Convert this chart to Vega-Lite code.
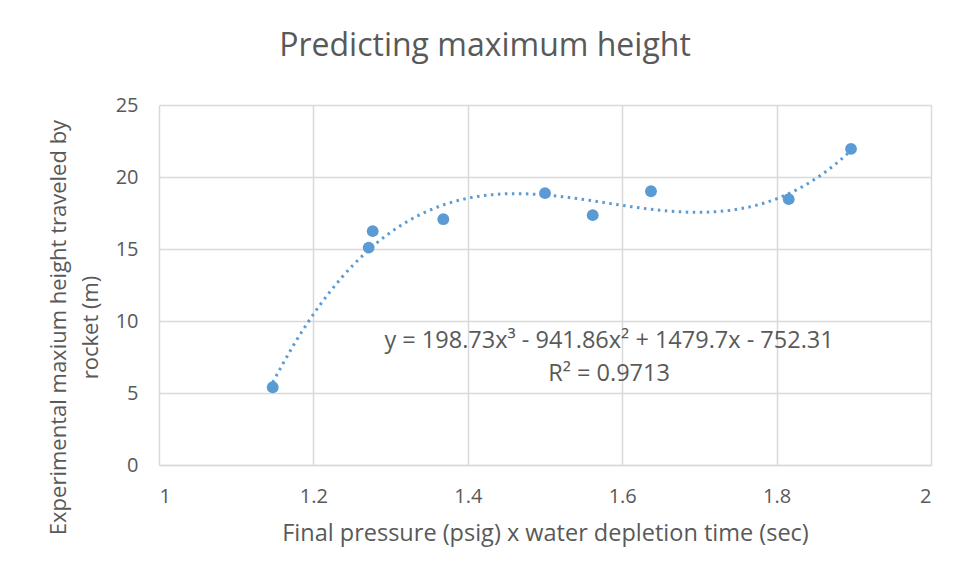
{
  "$schema": "https://vega.github.io/schema/vega-lite/v6.json",
  "autosize": {"type": "none"},
  "width": 772,
  "height": 360,
  "padding": {"left": 159, "top": 105, "right": 25, "bottom": 114},
  "background": "white",
  "title": {
    "text": "Predicting maximum height",
    "font": "Open Sans",
    "fontSize": 32,
    "fontWeight": "normal",
    "color": "#595959",
    "anchor": "middle",
    "frame": "group",
    "baseline": "alphabetic",
    "dx": -60,
    "offset": 7
  },
  "data": {
    "values": [
      {"x": 1.1473, "y": 5.40},
      {"x": 1.2716, "y": 15.10},
      {"x": 1.2768, "y": 16.24},
      {"x": 1.3683, "y": 17.07},
      {"x": 1.5000, "y": 18.88},
      {"x": 1.5618, "y": 17.35},
      {"x": 1.6373, "y": 19.01},
      {"x": 1.8157, "y": 18.46},
      {"x": 1.8964, "y": 21.95}
    ]
  },
  "encoding": {
    "x": {
      "field": "x",
      "type": "quantitative",
      "scale": {"domain": [1, 2], "nice": false, "zero": false},
      "axis": {
        "values": [1, 1.2, 1.4, 1.6, 1.8, 2],
        "format": "~g",
        "title": "Final pressure (psig) x water depletion time (sec)",
        "titleFont": "Open Sans",
        "titleFontSize": 23.5,
        "titleFontWeight": "normal",
        "titleColor": "#595959",
        "titleY": 75,
        "titleBaseline": "alphabetic",
        "labelFont": "Open Sans",
        "labelFontSize": 20,
        "labelColor": "#595959",
        "labelBaseline": "alphabetic",
        "labelPadding": 37,
        "ticks": false,
        "domainColor": "#d9d9d9",
        "domainWidth": 1.5,
        "gridColor": "#d9d9d9",
        "gridWidth": 1.5
      }
    },
    "y": {
      "field": "y",
      "type": "quantitative",
      "scale": {"domain": [0, 25], "nice": false},
      "axis": {
        "values": [0, 5, 10, 15, 20, 25],
        "title": ["Experimental maxium height traveled by", "rocket (m)"],
        "titleFont": "Open Sans",
        "titleFontSize": 22,
        "titleFontWeight": "normal",
        "titleColor": "#595959",
        "titleLineHeight": 32,
        "titleAngle": -90,
        "titleX": -101,
        "titleY": 222,
        "titleAlign": "center",
        "titleBaseline": "middle",
        "labelFont": "Open Sans",
        "labelFontSize": 20,
        "labelColor": "#595959",
        "labelPadding": 21,
        "ticks": false,
        "domain": false,
        "gridColor": "#d9d9d9",
        "gridWidth": 1.5
      }
    }
  },
  "layer": [
    {
      "transform": [
        {"regression": "y", "on": "x", "method": "poly", "order": 3}
      ],
      "mark": {
        "type": "line",
        "color": "#5b9bd5",
        "strokeWidth": 3,
        "strokeDash": [2.5, 4.5],
        "interpolate": "monotone"
      }
    },
    {
      "mark": {"type": "circle", "color": "#5b9bd5", "opacity": 1, "size": 140}
    },
    {
      "transform": [{"filter": "datum.x == 1.5"}],
      "mark": {
        "type": "text",
        "font": "Open Sans",
        "fontSize": 23.5,
        "fontWeight": "normal",
        "fill": "#595959",
        "align": "center",
        "baseline": "middle",
        "lineHeight": 33,
        "text": ["y = 198.73x³ - 941.86x² + 1479.7x - 752.31", "R² = 0.9713"]
      },
      "encoding": {
        "x": {"datum": 1.583},
        "y": {"datum": 8.63}
      }
    }
  ],
  "config": {"view": {"stroke": null}}
}
